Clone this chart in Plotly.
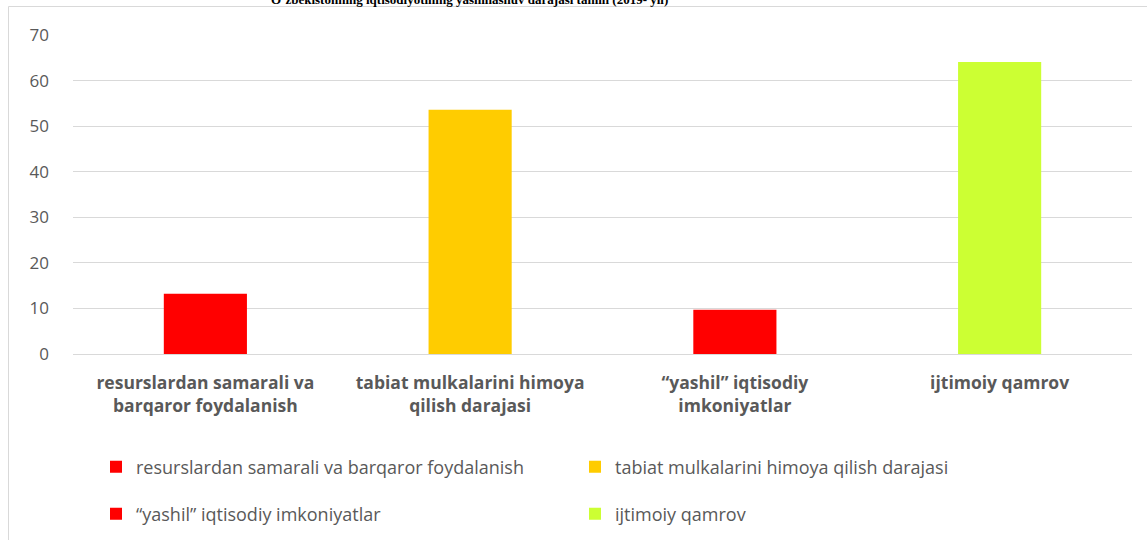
import plotly.graph_objects as go

categories = [
    "resurslardan samarali va<br>barqaror foydalanish",
    "tabiat mulkalarini himoya<br>qilish darajasi",
    "“yashil” iqtisodiy<br>imkoniyatlar",
    "ijtimoiy qamrov",
]
legend_names = [
    "resurslardan samarali va barqaror foydalanish",
    "tabiat mulkalarini himoya qilish darajasi",
    "“yashil” iqtisodiy imkoniyatlar",
    "ijtimoiy qamrov",
]
values = [13.2, 53.6, 9.7, 64.1]
colors = ["#FF0000", "#FFCC00", "#FF0000", "#CCFF33"]
legend_ids = ["legend", "legend", "legend2", "legend2"]
y_ticks = [0, 10, 20, 30, 40, 50, 60, 70]
title_text = "O‘zbekistonning iqtisodiyotining yashillashuv darajasi tahlili (2019- yil)"

W, H = 1147, 540
L, R, T, B = 73, 1132, 35, 354

def px_x(p):
    return (p - L) / (R - L)

def px_y(p):
    return (B - p) / (B - T)

fig = go.Figure()
for cat, name, v, c, lg in zip(categories, legend_names, values, colors, legend_ids):
    fig.add_trace(go.Bar(x=[cat], y=[v], name=name, marker=dict(color=c, line=dict(width=0)),
                         width=0.314, legend=lg))

font_fam = "'Open Sans', Lato, sans-serif"
leg_common = dict(orientation="h", xanchor="left", yanchor="middle",
                  entrywidth=434, entrywidthmode="pixels",
                  font=dict(family=font_fam, size=18, color="#595959"),
                  bgcolor="rgba(0,0,0,0)", itemclick=False)

fig.update_layout(
    width=W, height=H,
    margin=dict(l=L, r=W - R, t=T, b=H - B, autoexpand=False),
    paper_bgcolor="white", plot_bgcolor="white",
    barmode="overlay",
    showlegend=True,
    legend=dict(x=px_x(96), y=px_y(467), **leg_common),
    legend2=dict(x=px_x(96), y=px_y(514), **leg_common),
    xaxis=dict(type="category", showgrid=False, showline=True, linecolor="#d9d9d9", linewidth=1,
               ticks="", tickfont=dict(family=font_fam, size=17.5, color="#595959", weight="bold"),
               ticklabelstandoff=13, fixedrange=True),
    yaxis=dict(range=[0, 70], tickvals=y_ticks, showgrid=True, gridcolor="#d9d9d9", gridwidth=1,
               zeroline=False, showline=False, ticks="",
               tickfont=dict(family=font_fam, size=17, color="#595959"),
               ticklabelstandoff=23, fixedrange=True),
    shapes=[dict(type="rect", xref="paper", yref="paper",
                 x0=px_x(8.5), x1=px_x(1160), y0=px_y(560), y1=px_y(6.5),
                 line=dict(color="#d9d9d9", width=1), fillcolor="rgba(0,0,0,0)", layer="below")],
    annotations=[dict(text="<b>" + title_text + "</b>", xref="paper", yref="paper",
                      x=px_x(469), y=px_y(9.5), xanchor="center", yanchor="bottom", showarrow=False,
                      font=dict(family="'Liberation Serif', 'Times New Roman', serif", size=13, color="black"))],
)

fig.write_html("out.html")
